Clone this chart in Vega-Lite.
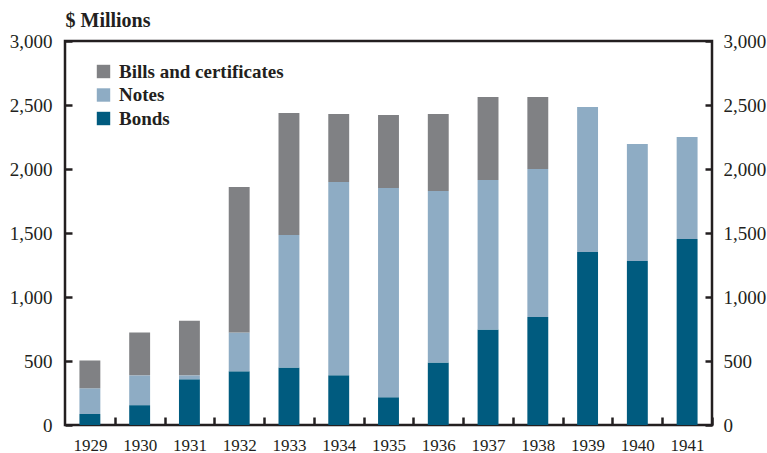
{
  "$schema": "https://vega.github.io/schema/vega-lite/v6.json",
  "width": 647,
  "height": 384,
  "autosize": {"type": "none"},
  "padding": {"left": 65, "top": 41, "right": 55, "bottom": 28},
  "background": "white",
  "config": {
    "view": {"stroke": "#231f20", "strokeWidth": 2.5},
    "font": "Liberation Serif",
    "axis": {
      "domain": false,
      "tickColor": "#231f20",
      "tickWidth": 2.5,
      "labelColor": "#231f20",
      "labelFont": "Liberation Serif",
      "grid": false
    }
  },
  "data": {
    "values": [
      {"year": "1929", "type": "Bonds", "k": 1, "value": 86},
      {"year": "1929", "type": "Notes", "k": 2, "value": 201},
      {"year": "1929", "type": "Bills and certificates", "k": 3, "value": 217},
      {"year": "1930", "type": "Bonds", "k": 1, "value": 155},
      {"year": "1930", "type": "Notes", "k": 2, "value": 233},
      {"year": "1930", "type": "Bills and certificates", "k": 3, "value": 335},
      {"year": "1931", "type": "Bonds", "k": 1, "value": 357},
      {"year": "1931", "type": "Notes", "k": 2, "value": 31},
      {"year": "1931", "type": "Bills and certificates", "k": 3, "value": 426},
      {"year": "1932", "type": "Bonds", "k": 1, "value": 419},
      {"year": "1932", "type": "Notes", "k": 2, "value": 304},
      {"year": "1932", "type": "Bills and certificates", "k": 3, "value": 1136},
      {"year": "1933", "type": "Bonds", "k": 1, "value": 450},
      {"year": "1933", "type": "Notes", "k": 2, "value": 1034},
      {"year": "1933", "type": "Bills and certificates", "k": 3, "value": 953},
      {"year": "1934", "type": "Bonds", "k": 1, "value": 388},
      {"year": "1934", "type": "Notes", "k": 2, "value": 1510},
      {"year": "1934", "type": "Bills and certificates", "k": 3, "value": 532},
      {"year": "1935", "type": "Bonds", "k": 1, "value": 217},
      {"year": "1935", "type": "Notes", "k": 2, "value": 1635},
      {"year": "1935", "type": "Bills and certificates", "k": 3, "value": 570},
      {"year": "1936", "type": "Bonds", "k": 1, "value": 489},
      {"year": "1936", "type": "Notes", "k": 2, "value": 1339},
      {"year": "1936", "type": "Bills and certificates", "k": 3, "value": 602},
      {"year": "1937", "type": "Bonds", "k": 1, "value": 746},
      {"year": "1937", "type": "Notes", "k": 2, "value": 1168},
      {"year": "1937", "type": "Bills and certificates", "k": 3, "value": 649},
      {"year": "1938", "type": "Bonds", "k": 1, "value": 843},
      {"year": "1938", "type": "Notes", "k": 2, "value": 1157},
      {"year": "1938", "type": "Bills and certificates", "k": 3, "value": 563},
      {"year": "1939", "type": "Bonds", "k": 1, "value": 1352},
      {"year": "1939", "type": "Notes", "k": 2, "value": 1132},
      {"year": "1940", "type": "Bonds", "k": 1, "value": 1281},
      {"year": "1940", "type": "Notes", "k": 2, "value": 914},
      {"year": "1941", "type": "Bonds", "k": 1, "value": 1453},
      {"year": "1941", "type": "Notes", "k": 2, "value": 797}
    ]
  },
  "layer": [
    {
      "mark": {"type": "bar"},
      "encoding": {
        "x": {
          "field": "year",
          "type": "ordinal",
          "scale": {"paddingInner": 0.58, "paddingOuter": 0.29},
          "axis": {
            "orient": "top",
            "offset": -384,
            "title": null,
            "labelAngle": 0,
            "labelFontSize": 17,
            "labelBaseline": "top",
            "tickSize": 8,
            "tickOffset": 24.9,
            "labelOffset": -24.9,
            "labelPadding": -20
          }
        },
        "y": {
          "field": "value",
          "type": "quantitative",
          "stack": "zero",
          "scale": {"domain": [0, 3000], "nice": false},
          "axis": {
            "orient": "right",
            "offset": -647,
            "values": [0, 500, 1000, 1500, 2000, 2500, 3000],
            "format": ",.0f",
            "labelFontSize": 19,
            "labelAlign": "right",
            "tickSize": 7,
            "labelPadding": -20,
            "title": "$ Millions",
            "titleAngle": 0,
            "titleAlign": "left",
            "titleBaseline": "alphabetic",
            "titleX": 0,
            "titleY": -15,
            "titleFontSize": 20,
            "titleFontWeight": "bold",
            "titleColor": "#231f20",
            "titleFont": "Liberation Serif"
          }
        },
        "color": {
          "field": "type",
          "type": "nominal",
          "scale": {
            "domain": ["Bills and certificates", "Notes", "Bonds"],
            "range": ["#808184", "#8eacc4", "#005b7f"]
          },
          "legend": {
            "title": null,
            "orient": "none",
            "legendX": 29,
            "legendY": 21,
            "symbolType": "square",
            "symbolSize": 180,
            "symbolStrokeWidth": 0,
            "symbolOpacity": 1,
            "labelFontSize": 19,
            "labelFontWeight": "bold",
            "labelColor": "#231f20",
            "labelFont": "Liberation Serif",
            "labelOffset": 6,
            "labelLimit": 400,
            "rowPadding": 3.5
          }
        },
        "order": {"field": "k", "type": "quantitative", "sort": "ascending"}
      }
    },
    {
      "mark": {"type": "bar", "opacity": 0},
      "encoding": {
        "x": {"field": "year", "type": "ordinal"},
        "y": {
          "field": "value",
          "type": "quantitative",
          "stack": "zero",
          "axis": {
            "orient": "left",
            "offset": -647,
            "values": [0, 500, 1000, 1500, 2000, 2500, 3000],
            "format": ",.0f",
            "labelFontSize": 19,
            "labelAlign": "left",
            "tickSize": 7,
            "labelPadding": -18,
            "title": null
          }
        },
        "order": {"field": "k", "type": "quantitative", "sort": "ascending"}
      }
    }
  ],
  "resolve": {"axis": {"y": "independent"}}
}
